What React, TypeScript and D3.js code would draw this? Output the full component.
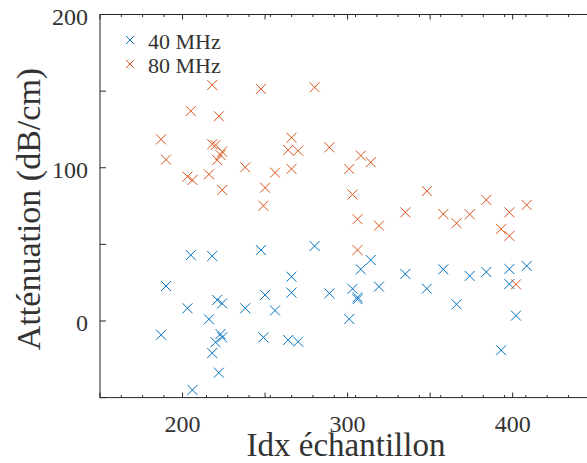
import React from "react";
import * as d3 from "d3";

const idx = [187, 190, 203, 205, 206, 216, 218, 218, 220, 221, 222, 223, 224, 224, 238, 247.5, 249, 250, 256, 264, 266, 266, 270, 280, 289, 301, 303, 306, 306, 308, 314, 319, 335, 348, 358, 366, 374, 384, 393, 398, 398, 402, 408.5];
const att40 = [-9, 22.8, 8.3, 43, -45, 1.1, 42.4, -20.9, -13.9, 13.7, -33.7, -8.5, -10.7, 11.5, 8.3, 46.3, -10.7, 17, 6.8, -12.4, 28.9, 18.5, -13.5, 48.9, 18, 1.3, 21, 15.5, 14.2, 33.7, 39.8, 22.4, 30.7, 21.1, 33.7, 10.9, 29.4, 32, -19.1, 33.9, 24.1, 3.5, 35.9];
const att80 = [118.5, 105.3, 94.2, 137, 92, 95.7, 154, 115.3, 114.8, 105, 133.6, 108.3, 110.5, 85.5, 100.3, 151.4, 75.2, 87, 96.8, 111.6, 119.6, 99.2, 111.1, 152.5, 113.3, 99.2, 82.5, 66.4, 46.3, 107.9, 103.6, 62.2, 70.9, 84.8, 69.8, 63.8, 69.6, 79, 60, 70.9, 55.5, 23.9, 75.7];
const seriesNames = ["40 MHz", "80 MHz"];
const seriesColors = ["#0072BD", "#D95319"];
const xMajorTicks = [150, 200, 250, 300, 350, 400, 450];
const xLabelTicks = [200, 300, 400];
const yMajorTicks = [-50, 0, 50, 100, 150, 200];
const yLabelTicks = [0, 100, 200];
const xTitle = "Idx échantillon";
const yTitle = "Atténuation (dB/cm)";

const W = 587, H = 463;
const M = { left: 100, top: 14.5, right: 595.2, bottom: 397.6 };

export default function App() {
  const x = d3.scaleLinear().domain([150, 450]).range([M.left, M.right]);
  const y = d3.scaleLinear().domain([-50, 200]).range([M.bottom, M.top]);
  const minor = d3.range(150, 450, 12.9).filter(v => !xMajorTicks.some(m => Math.abs(m - v) < 3));
  const axisColor = "#262626";
  const textColor = "#333";
  const font = "'Liberation Serif', 'Times New Roman', serif";
  const series = [att40, att80];

  const cross = (cx: number, cy: number, r: number, color: string, key: string) => (
    <path key={key} d={`M${cx - r},${cy - r}L${cx + r},${cy + r}M${cx - r},${cy + r}L${cx + r},${cy - r}`} stroke={color} strokeWidth={1} fill="none" />
  );

  return (
    <svg width={W} height={H} style={{ position: "absolute", left: 0, top: 0, overflow: "hidden", background: "#fff" }}>
      <rect x={0} y={0} width={W} height={H} fill="#fff" />
      {series.map((s, si) =>
        s.map((v, i) => cross(x(idx[i]), y(v), 5, seriesColors[si], `p${si}-${i}`))
      )}
      <rect x={M.left} y={M.top} width={M.right - M.left} height={M.bottom - M.top} fill="none" stroke={axisColor} strokeWidth={1} />
      {xMajorTicks.map(t => (
        <g key={`xt${t}`}>
          <line x1={x(t)} x2={x(t)} y1={M.bottom} y2={M.bottom - 5} stroke={axisColor} />
          <line x1={x(t)} x2={x(t)} y1={M.top} y2={M.top + 5} stroke={axisColor} />
        </g>
      ))}
      {minor.map((t, i) => (
        <g key={`xm${i}`}>
          <line x1={x(t)} x2={x(t)} y1={M.bottom} y2={M.bottom - 2.5} stroke={axisColor} />
          <line x1={x(t)} x2={x(t)} y1={M.top} y2={M.top + 2.5} stroke={axisColor} />
        </g>
      ))}
      {yMajorTicks.map(t => (
        <line key={`yt${t}`} x1={M.left} x2={M.left + 6} y1={y(t)} y2={y(t)} stroke={axisColor} />
      ))}
      {xLabelTicks.map(t => (
        <text key={`xl${t}`} x={x(t)} y={431.5} textAnchor="middle" fontFamily={font} fontSize={24} fill={textColor}>{t}</text>
      ))}
      {yLabelTicks.map(t => (
        <text key={`yl${t}`} x={88} y={y(t) + 10.5} textAnchor="end" fontFamily={font} fontSize={24} fill={textColor}>{t}</text>
      ))}
      <text x={346} y={456} textAnchor="middle" fontFamily={font} fontSize={33} fill={textColor}>{xTitle}</text>
      <text transform={`translate(40,209) rotate(-90)`} textAnchor="middle" fontFamily={font} fontSize={34} fill={textColor}>{yTitle}</text>
      {seriesNames.map((n, i) => (
        <g key={`lg${i}`}>
          {cross(130, 40 + i * 24, 4, seriesColors[i], `lm${i}`)}
          <text x={148} y={49.3 + i * 23.4} fontFamily={font} fontSize={22} fill={textColor}>{n}</text>
        </g>
      ))}
    </svg>
  );
}
